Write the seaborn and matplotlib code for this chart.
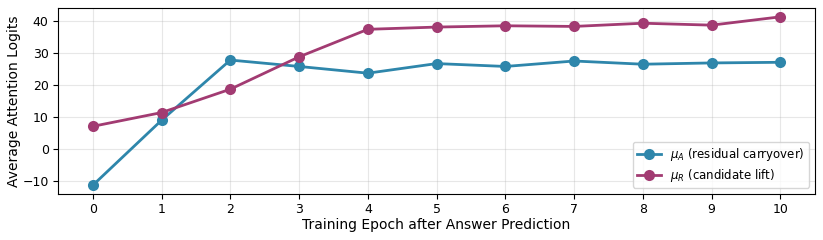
import matplotlib
matplotlib.use("Agg")
import matplotlib.pyplot as plt
import pandas as pd
import seaborn as sns

epochs = [0, 1, 2, 3, 4, 5, 6, 7, 8, 9, 10]
mu_a = [-11.3, 9.0, 27.8, 25.8, 23.7, 26.7, 25.8, 27.5, 26.5, 26.9, 27.1]
mu_r = [7.1, 11.4, 18.7, 28.8, 37.4, 38.1, 38.5, 38.3, 39.3, 38.7, 41.3]
labels = [r'$\mu_A$ (residual carryover)', r'$\mu_R$ (candidate lift)']
colors = ['#2E86AB', '#A23B72']

df = pd.DataFrame({'epoch': epochs * 2,
                   'value': mu_a + mu_r,
                   'series': [labels[0]] * len(epochs) + [labels[1]] * len(epochs)})

fig, ax = plt.subplots(figsize=(8.23, 2.4), dpi=100)

sns.lineplot(data=df, x='epoch', y='value', hue='series', palette=colors,
             marker='o', markersize=8, linewidth=2, markeredgewidth=0, ax=ax)

ax.set_xticks(epochs)
ax.tick_params(labelsize=9)
ax.set_xlabel('Training Epoch after Answer Prediction', fontsize=10, labelpad=1)
ax.set_ylabel('Average Attention Logits', fontsize=10, labelpad=1)
ax.grid(True, alpha=0.3)
ax.legend(loc='lower right', fontsize=8.5, title=None, labelspacing=0.3,
          borderpad=0.35)

fig.subplots_adjust(left=0.071, right=0.99, top=0.965, bottom=0.193)
fig.savefig('out.png', dpi=100)
